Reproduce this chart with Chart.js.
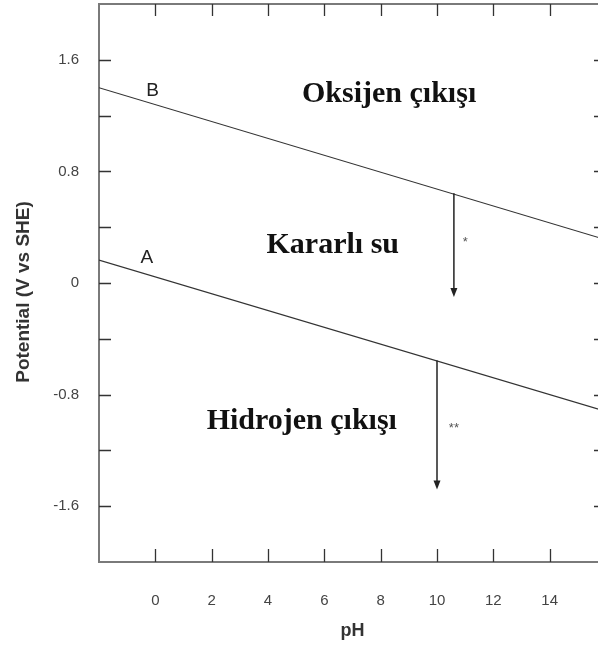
<!DOCTYPE html>
<html>
<head>
<meta charset="utf-8">
<script src="https://cdn.jsdelivr.net/npm/chart.js@4/dist/chart.umd.min.js"></script>
<style>
  html, body { margin: 0; padding: 0; background: #fff; overflow: hidden; }
  #wrap { width: 620px; height: 646px; }
</style>
</head>
<body>
<div id="wrap"><canvas id="c" width="620" height="646"></canvas></div>
<script>
// Water stability boundaries (potential vs pH)
const phRange = [-2, 16];
const lineB = [1.40, 0.31];   // O2/H2O line at pH -2 and 16
const lineA = [0.164, -0.92]; // H+/H2 line at pH -2 and 16
const lineNames = ['B', 'A'];
const lineLabelX = [-0.1, -0.3];
const lineLabelY = [1.38, 0.18];

// Region labels
const regionNames = ['Oksijen çıkışı', 'Kararlı su', 'Hidrojen çıkışı'];
const regionX = [8.3, 6.3, 5.2];
const regionY = [1.35, 0.27, -0.99];

// Downward arrows
const arrowX = [10.6, 10.0];
const arrowFrom = [0.644, -0.556];
const arrowTo = [-0.10, -1.48];
const arrowMarks = ['*', '**'];
const arrowMarkX = [11.0, 10.6];
const arrowMarkY = [0.29, -1.04];

const yTitle = 'Potential (V vs SHE)';

const ctxEl = document.getElementById('c');

const decorations = {
  id: 'decorations',
  afterDatasetsDraw(chart) {
    const { ctx, chartArea: a, scales: { x, y } } = chart;
    ctx.save();
    // top frame line
    ctx.strokeStyle = '#7a7a7a';
    ctx.lineWidth = 2;
    ctx.beginPath();
    ctx.moveTo(a.left - 1, a.top);
    ctx.lineTo(a.right, a.top);
    ctx.stroke();

    // inward tick marks on all four sides
    ctx.strokeStyle = '#333';
    ctx.lineWidth = 1.3;
    y.ticks.forEach(t => {
      if (t.value <= y.min + 1e-6 || t.value >= y.max - 1e-6) return;
      const py = Math.round(y.getPixelForValue(t.value)) + 0.5;
      ctx.beginPath();
      ctx.moveTo(a.left, py); ctx.lineTo(a.left + 12, py);
      ctx.moveTo(a.right, py); ctx.lineTo(a.right - 12, py);
      ctx.stroke();
    });
    x.ticks.forEach(t => {
      if (t.value <= x.min + 1e-6 || t.value >= x.max - 1e-6) return;
      const px = Math.round(x.getPixelForValue(t.value)) + 0.5;
      ctx.beginPath();
      ctx.moveTo(px, a.bottom); ctx.lineTo(px, a.bottom - 13);
      ctx.moveTo(px, a.top); ctx.lineTo(px, a.top + 12);
      ctx.stroke();
    });

    // arrows
    ctx.strokeStyle = '#222';
    ctx.fillStyle = '#222';
    ctx.lineWidth = 1.5;
    arrowX.forEach((v, i) => {
      const px = x.getPixelForValue(v);
      const y0 = y.getPixelForValue(arrowFrom[i]);
      const y1 = y.getPixelForValue(arrowTo[i]);
      ctx.beginPath();
      ctx.moveTo(px, y0); ctx.lineTo(px, y1 - 7);
      ctx.stroke();
      ctx.beginPath();
      ctx.moveTo(px - 3.5, y1 - 9);
      ctx.lineTo(px + 3.5, y1 - 9);
      ctx.lineTo(px, y1);
      ctx.closePath();
      ctx.fill();
    });

    // arrow marks
    ctx.fillStyle = '#555';
    ctx.font = '13px "Liberation Sans", Arial, sans-serif';
    ctx.textAlign = 'center';
    ctx.textBaseline = 'middle';
    arrowMarks.forEach((m, i) => {
      ctx.fillText(m, x.getPixelForValue(arrowMarkX[i]), y.getPixelForValue(arrowMarkY[i]));
    });

    // line names
    ctx.fillStyle = '#222';
    ctx.font = '19px "Liberation Sans", Arial, sans-serif';
    lineNames.forEach((n, i) => {
      ctx.fillText(n, x.getPixelForValue(lineLabelX[i]), y.getPixelForValue(lineLabelY[i]));
    });

    // region names
    ctx.fillStyle = '#111';
    ctx.font = 'bold 30px "Liberation Serif", "Times New Roman", serif';
    regionNames.forEach((n, i) => {
      ctx.fillText(n, x.getPixelForValue(regionX[i]), y.getPixelForValue(regionY[i]));
    });

    // vertical axis title, sitting slightly below the plot's midline
    ctx.fillStyle = '#333';
    ctx.font = 'bold 19px "Liberation Sans", Arial, sans-serif';
    ctx.translate(24, (a.top + a.bottom) / 2 + 9);
    ctx.rotate(-Math.PI / 2);
    ctx.fillText(yTitle, 0, 0);
    ctx.restore();
  }
};

new Chart(ctxEl, {
  type: 'line',
  data: {
    datasets: [
      { data: [{ x: phRange[0], y: lineB[0] }, { x: phRange[1], y: lineB[1] }] },
      { data: [{ x: phRange[0], y: lineA[0] }, { x: phRange[1], y: lineA[1] }] }
    ]
  },
  options: {
    responsive: false,
    animation: false,
    devicePixelRatio: 1,
    layout: { padding: { left: 0, top: 4, right: 14, bottom: 0 } },
    elements: {
      line: { borderColor: '#333', borderWidth: 1.2, tension: 0 },
      point: { radius: 0 }
    },
    plugins: { legend: { display: false }, tooltip: { enabled: false } },
    scales: {
      x: {
        type: 'linear',
        min: phRange[0], max: phRange[1],
        afterFit(s) { s.height = 84; s.paddingLeft = 0; s.paddingRight = 0; },
        grid: { display: false },
        border: { display: true, color: '#7a7a7a', width: 2 },
        ticks: {
          stepSize: 2, autoSkip: false, maxRotation: 0,
          padding: 22, color: '#444',
          font: { family: '"Liberation Sans", Arial, sans-serif', size: 15 },
          callback: v => (v <= phRange[0] || v >= phRange[1]) ? '' : String(v)
        },
        title: {
          display: true, text: 'pH', color: '#333',
          font: { family: '"Liberation Sans", Arial, sans-serif', size: 18, weight: 'bold' },
          padding: { top: 0, bottom: 4 }
        }
      },
      y: {
        type: 'linear',
        min: -2, max: 2,
        afterFit(s) { s.width = 99; s.paddingTop = 0; s.paddingBottom = 0; },
        grid: { display: false },
        border: { display: true, color: '#7a7a7a', width: 2 },
        ticks: {
          stepSize: 0.4, autoSkip: false, padding: 12, color: '#444',
          font: { family: '"Liberation Sans", Arial, sans-serif', size: 15 },
          callback: v => {
            const k = Math.round(v * 10);
            if (Math.abs(k) >= 20 || k % 8 !== 0) return '';
            return k === 0 ? '0' : (k / 10).toFixed(1);
          }
        },
        title: { display: false }
      }
    }
  },
  plugins: [decorations]
});
</script>
</body>
</html>
